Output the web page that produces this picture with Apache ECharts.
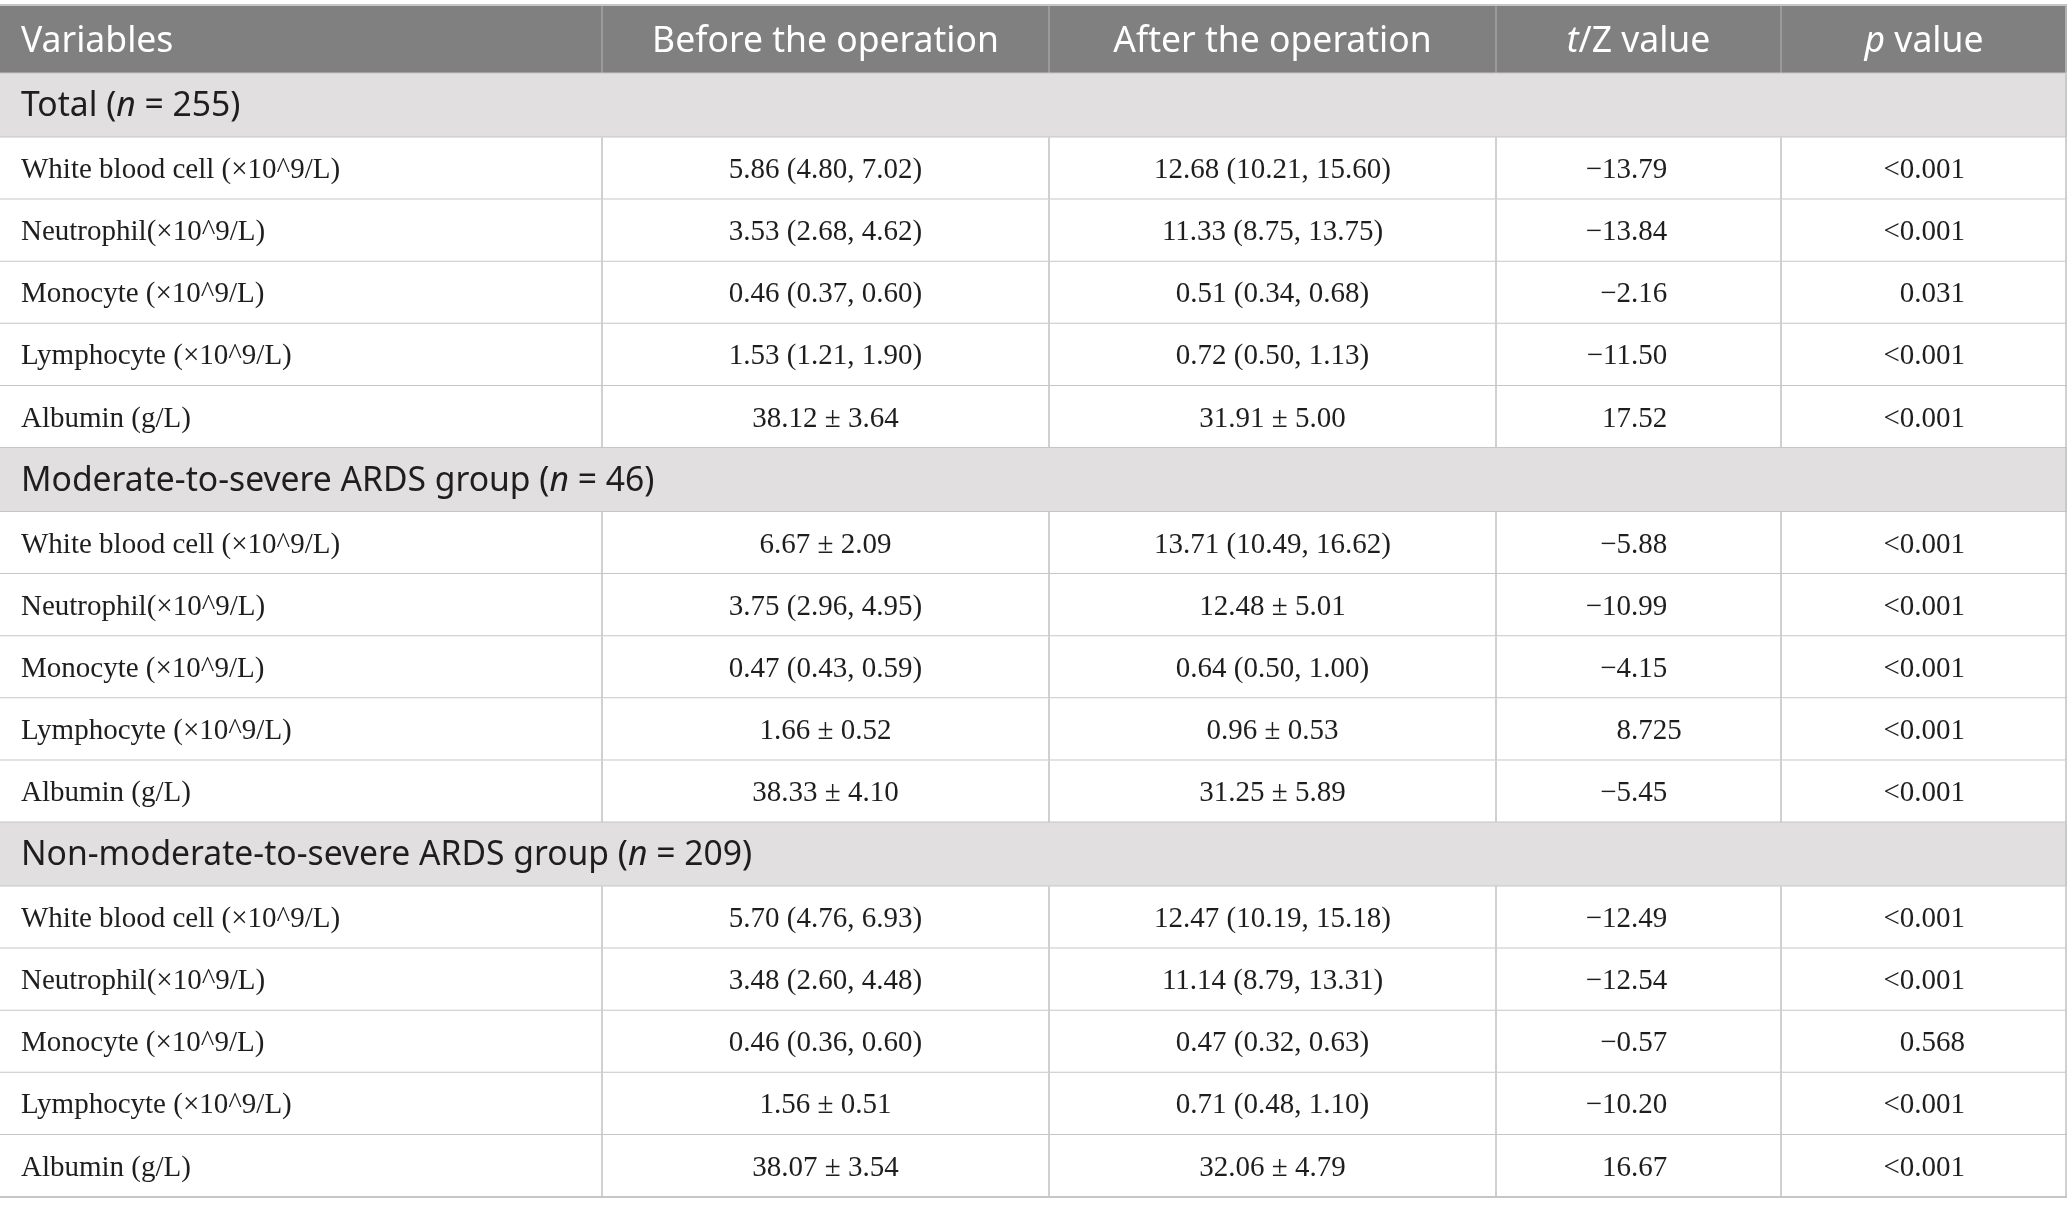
<!DOCTYPE html>
<html lang="en">
<head>
<meta charset="utf-8">
<title>Blood indices before and after the operation</title>
<script src="https://cdn.jsdelivr.net/npm/echarts@6.0.0/dist/echarts.min.js"></script>
<style>
  html, body { margin: 0; padding: 0; background: #fff; }
  #main { width: 2067px; height: 1215px; }
</style>
</head>
<body>
<div id="main"></div>
<script>
  // table content
  var headers = ['Variables', 'Before the operation', 'After the operation', '{i|t}/Z value', '{i|p} value'];
  var groupNames = ['Total', 'Moderate-to-severe ARDS group', 'Non-moderate-to-severe ARDS group'];
  var groupN = [255, 46, 209];
  var variables = ['White blood cell (×10^9/L)', 'Neutrophil(×10^9/L)', 'Monocyte (×10^9/L)', 'Lymphocyte (×10^9/L)', 'Albumin (g/L)'];

  var beforeOp = [
    ['5.86 (4.80, 7.02)', '3.53 (2.68, 4.62)', '0.46 (0.37, 0.60)', '1.53 (1.21, 1.90)', '38.12 ± 3.64'],
    ['6.67 ± 2.09', '3.75 (2.96, 4.95)', '0.47 (0.43, 0.59)', '1.66 ± 0.52', '38.33 ± 4.10'],
    ['5.70 (4.76, 6.93)', '3.48 (2.60, 4.48)', '0.46 (0.36, 0.60)', '1.56 ± 0.51', '38.07 ± 3.54']
  ];
  var afterOp = [
    ['12.68 (10.21, 15.60)', '11.33 (8.75, 13.75)', '0.51 (0.34, 0.68)', '0.72 (0.50, 1.13)', '31.91 ± 5.00'],
    ['13.71 (10.49, 16.62)', '12.48 ± 5.01', '0.64 (0.50, 1.00)', '0.96 ± 0.53', '31.25 ± 5.89'],
    ['12.47 (10.19, 15.18)', '11.14 (8.79, 13.31)', '0.47 (0.32, 0.63)', '0.71 (0.48, 1.10)', '32.06 ± 4.79']
  ];
  var tzValue = [
    ['−13.79', '−13.84', '−2.16', '−11.50', '17.52'],
    ['−5.88', '−10.99', '−4.15', '8.725', '−5.45'],
    ['−12.49', '−12.54', '−0.57', '−10.20', '16.67']
  ];
  var pValue = [
    ['<0.001', '<0.001', '0.031', '<0.001', '<0.001'],
    ['<0.001', '<0.001', '<0.001', '<0.001', '<0.001'],
    ['<0.001', '<0.001', '0.568', '<0.001', '<0.001']
  ];

  // layout: column edges on the x axis, row heights on the y axis
  var colEdges = [0, 602, 1049, 1496, 1781, 2067];
  var rowHeight = { head: 68.5, group: 64, body: 62.1 };

  // build the rows: header, then per group a section row and its variable rows
  var rows = [];
  rows.push({ kind: 'head', cells: headers });
  for (var g = 0; g < groupNames.length; g++) {
    rows.push({ kind: 'group', cells: [groupNames[g] + ' ({i|n} = ' + groupN[g] + ')'] });
    for (var v = 0; v < variables.length; v++) {
      rows.push({ kind: 'body', cells: [variables[v], beforeOp[g][v], afterOp[g][v], tzValue[g][v], pValue[g][v]] });
    }
  }
  var acc = 0;
  var rowData = rows.map(function (r, i) {
    var start = acc;
    acc += rowHeight[r.kind];
    return [i, start, acc];
  });
  var tableHeight = acc;

  var sansFont = '"Noto Sans", "Open Sans", sans-serif';
  var serifFont = '"Liberation Serif", "DejaVu Serif", serif';
  var bodyFont = '29px ' + serifFont;

  function sansText(txt, x, y, align, color, size, sx) {
    return {
      type: 'text',
      x: x, y: y, scaleX: sx,
      style: {
        text: txt, x: 0, y: 0,
        align: align, verticalAlign: 'middle',
        fill: color,
        font: size + 'px ' + sansFont,
        rich: { i: { fontStyle: 'italic', fontSize: size, fontFamily: sansFont, fill: color } }
      }
    };
  }

  function serifText(txt, x, y, align) {
    return {
      type: 'text',
      style: { text: txt, x: x, y: y, align: align, verticalAlign: 'middle', fill: '#1e1e1e', font: bodyFont }
    };
  }

  function renderRow(params, api) {
    var idx = api.value(0);
    var row = rows[idx];
    var p0 = api.coord([colEdges[0], api.value(1)]);
    var p1 = api.coord([colEdges[5], api.value(2)]);
    var x0 = p0[0], x5 = p1[0];
    var top = p0[1], bottom = p1[1];
    var cy = (top + bottom) / 2;
    var children = [];

    var bg = row.kind === 'head' ? '#7f807f' : (row.kind === 'group' ? '#e1dfe0' : '#ffffff');
    children.push({ type: 'rect', shape: { x: x0, y: top, width: x5 - x0, height: bottom - top }, style: { fill: bg } });

    if (row.kind === 'head') {
      for (var c = 1; c < 5; c++) {
        var xl = api.coord([colEdges[c], 0])[0];
        children.push({ type: 'line', shape: { x1: xl, y1: top, x2: xl, y2: bottom }, style: { stroke: '#a3a3a3', lineWidth: 1.5 } });
      }
      children.push({ type: 'line', shape: { x1: x0, y1: top, x2: x5, y2: top }, style: { stroke: '#c6c6c6', lineWidth: 2 } });
      row.cells.forEach(function (txt, c) {
        var left = api.coord([colEdges[c], 0])[0];
        var right = api.coord([colEdges[c + 1], 0])[0];
        children.push(sansText(txt, c === 0 ? left + 21 : (left + right) / 2, cy + 2.5, c === 0 ? 'left' : 'center', '#ffffff', 37, 0.96));
      });
    } else if (row.kind === 'group') {
      children.push(sansText(row.cells[0], x0 + 21, cy + 1, 'left', '#1e1e1e', 34, 0.99));
    } else {
      for (var k = 1; k < 5; k++) {
        var xv = api.coord([colEdges[k], 0])[0];
        children.push({ type: 'line', shape: { x1: xv, y1: top, x2: xv, y2: bottom }, style: { stroke: '#c0c0c0', lineWidth: 1.5 } });
      }
      row.cells.forEach(function (txt, c) {
        var left = api.coord([colEdges[c], 0])[0];
        var right = api.coord([colEdges[c + 1], 0])[0];
        if (c === 0) {
          children.push(serifText(txt, left + 21, cy + 2, 'left'));
        } else if (c === 3) {
          // decimal-aligned statistic
          var dot = txt.indexOf('.');
          var decX = left + 135;
          children.push(serifText(txt.slice(0, dot), decX, cy + 2, 'right'));
          children.push(serifText(txt.slice(dot), decX, cy + 2, 'left'));
        } else if (c === 4) {
          children.push(serifText(txt, left + 184, cy + 2, 'right'));
        } else {
          children.push(serifText(txt, (left + right) / 2, cy + 2, 'center'));
        }
      });
    }
    // bottom rule and right border
    children.push({ type: 'line', shape: { x1: x0, y1: bottom, x2: x5, y2: bottom }, style: { stroke: '#c6c6c6', lineWidth: 2 } });
    children.push({ type: 'line', shape: { x1: x5 - 1, y1: top, x2: x5 - 1, y2: bottom }, style: { stroke: '#c0c0c0', lineWidth: 1.5 } });

    return { type: 'group', children: children };
  }

  var chart = echarts.init(document.getElementById('main'));
  chart.setOption({
    animation: false,
    grid: { left: 0, right: 0, top: 5, height: tableHeight },
    xAxis: { type: 'value', min: colEdges[0], max: colEdges[5], show: false },
    yAxis: { type: 'value', min: 0, max: tableHeight, inverse: true, show: false },
    series: [{
      type: 'custom',
      renderItem: renderRow,
      data: rowData,
      encode: { y: [1, 2] },
      clip: false,
      silent: true
    }]
  });
</script>
</body>
</html>
